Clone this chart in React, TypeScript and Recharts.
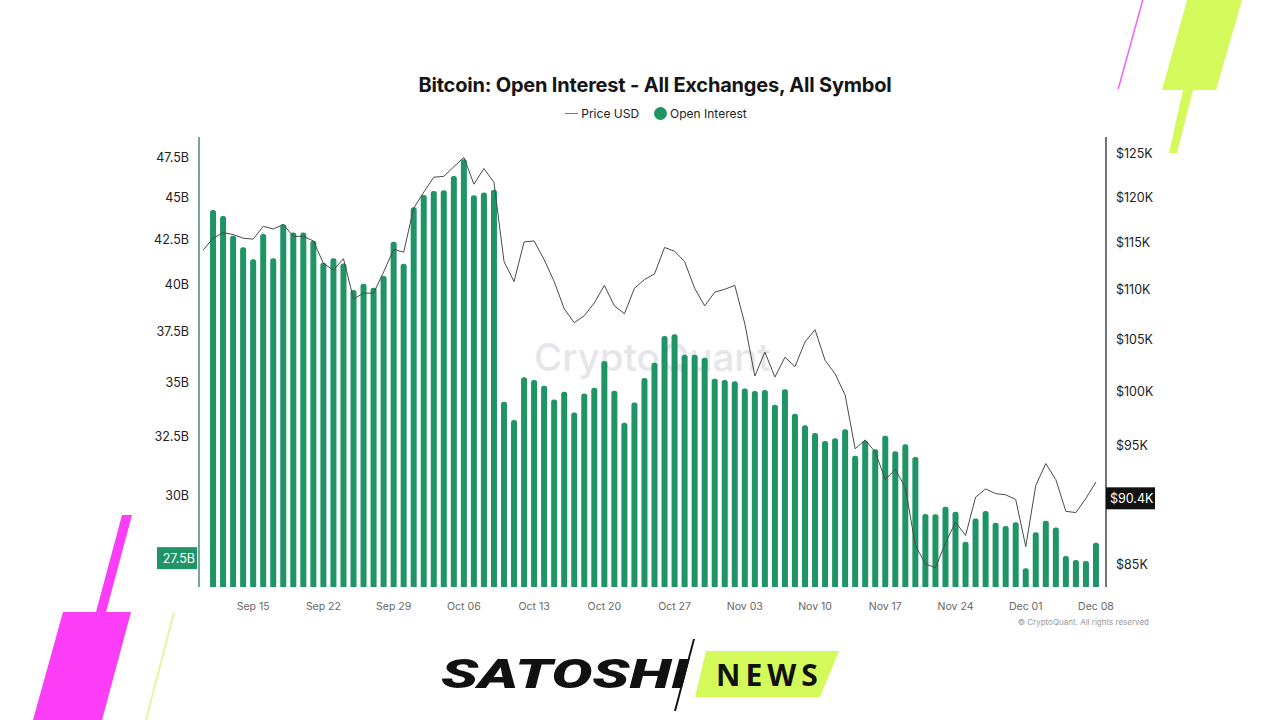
import { ComposedChart, Bar, Line, XAxis, YAxis, Legend } from "recharts";

const TITLE = "Bitcoin: Open Interest - All Exchanges, All Symbol";
const MONTHS = ["Sep", "Oct", "Nov", "Dec"];
const MONTH_DAYS = [
  [10, 11, 12, 13, 14, 15, 16, 17, 18, 19, 20, 21, 22, 23, 24, 25, 26, 27, 28, 29, 30],
  [1, 2, 3, 4, 5, 6, 7, 8, 9, 10, 11, 12, 13, 14, 15, 16, 17, 18, 19, 20, 21, 22, 23, 24, 25, 26, 27, 28, 29, 30, 31],
  [1, 2, 3, 4, 5, 6, 7, 8, 9, 10, 11, 12, 13, 14, 15, 16, 17, 18, 19, 20, 21, 22, 23, 24, 25, 26, 27, 28, 29, 30],
  [1, 2, 3, 4, 5, 6, 7, 8],
];
const DATES = MONTHS.flatMap((m, i) => MONTH_DAYS[i].map((d) => `${m} ${String(d).padStart(2, "0")}`));
const X_TICKS = ["Sep 15", "Sep 22", "Sep 29", "Oct 06", "Oct 13", "Oct 20", "Oct 27", "Nov 03", "Nov 10", "Nov 17", "Nov 24", "Dec 01", "Dec 08"];

// billions, no bar on the first day
const OPEN_INTEREST = [
  null,
  44.19, 43.83, 42.67, 42.0, 41.32, 42.77, 41.38, 43.34, 42.85, 42.85,
  42.38, 41.13, 41.38, 41.09, 39.62, 39.96, 39.75, 40.39, 42.32, 41.07,
  44.35, 45.1, 45.35, 45.39, 46.29, 47.35, 45.08, 45.25, 45.43,
  34.03, 33.19, 35.18, 35.05, 34.78, 34.14, 34.5, 33.53, 34.42, 34.69,
  35.97, 34.55, 33.07, 33.99, 35.15, 35.89, 37.22, 37.31, 36.28, 36.28,
  36.13, 35.11, 35.05, 34.99, 34.65, 34.53, 34.58, 33.89, 34.62, 33.48,
  32.96, 32.61, 32.26, 32.38, 32.78,
  31.62, 32.27, 31.9, 32.49, 31.81, 32.12, 31.56, 29.2, 29.19, 29.49,
  29.29, 28.12, 29.03, 29.32, 28.86, 28.73, 28.88, 27.12, 28.49, 28.94,
  28.67, 27.58, 27.43, 27.39, 28.08,
];

// thousands of USD
const PRICE = [
  114.1, 115.4, 116.0, 115.8, 115.4, 115.3, 116.7, 116.4, 116.9, 115.6,
  115.6, 115.1, 112.7, 112.0, 113.2, 109.0, 109.6, 109.6, 111.8, 114.2,
  113.9, 118.7, 120.5, 122.2, 122.3, 123.4, 124.5, 121.4, 123.2, 121.6,
  112.9, 110.8, 115.0, 115.1, 113.1, 110.8, 108.0, 106.6, 107.3, 108.6,
  110.4, 108.3, 107.5, 110.1, 111.0, 111.6, 114.4, 114.0, 112.9, 110.1,
  108.3, 109.7, 110.0, 110.4, 106.5, 101.4, 103.7, 101.3, 103.2, 102.3,
  104.7, 105.9, 102.9, 101.6, 99.6,
  94.7, 95.5, 94.4, 92.0, 92.9, 91.3, 86.5, 85.0, 84.7, 86.7,
  88.4, 87.3, 90.5, 91.2, 90.8, 90.7, 90.3, 86.4, 91.5, 93.4,
  92.0, 89.3, 89.2, 90.4, 91.8,
];

const OI_TICKS = [27.5, 30, 32.5, 35, 37.5, 40, 42.5, 45, 47.5];
const PRICE_TICKS = [85, 90.4, 95, 100, 105, 110, 115, 120, 125];
const OI_CURRENT = 27.5;
const PRICE_CURRENT = 90.4;

const GREEN = "#1f9465";
const LIME = "#d3f95a";
const MAGENTA = "#fb3df8";
const FONT = "Inter, sans-serif";

const chartData = DATES.map((date, i) => ({ date, oi: OPEN_INTEREST[i], price: PRICE[i] }));

function OiTick({ x, y, payload }: any) {
  const current = payload.value === OI_CURRENT;
  return (
    <g>
      {current && <rect x={x - 34} y={y - 11} width={40} height={22} fill={GREEN} />}
      <text x={current ? x + 4 : x - 2} y={y} dy={current ? 4.5 : 5.5} textAnchor="end" fontSize={12.5} fontFamily={FONT}
        fill={current ? "#fff" : "#222"}>{payload.value}B</text>
    </g>
  );
}

function PriceTick({ x, y, payload }: any) {
  const current = payload.value === PRICE_CURRENT;
  return (
    <g>
      {current && <rect x={x - 8} y={y - 11} width={49} height={22} fill="#111" />}
      <text x={x + (current ? -4 : 2)} y={y} dy={5} fontSize={12.5} fontFamily={FONT}
        fill={current ? "#fff" : "#222"}>${payload.value}K</text>
    </g>
  );
}

function ChartLegend() {
  return (
    <div style={{ display: "flex", alignItems: "center", justifyContent: "center", fontFamily: FONT, fontSize: 12, color: "#222" }}>
      <span style={{ width: 13, height: 1, background: "#777", marginRight: 3 }} />
      <span>Price USD</span>
      <span style={{ width: 13, height: 13, borderRadius: 7, background: GREEN, marginLeft: 15, marginRight: 3 }} />
      <span>Open Interest</span>
    </div>
  );
}

function Decorations() {
  return (
    <svg width={1280} height={720} style={{ position: "absolute", left: 0, top: 0 }}>
      <polygon points="1142,0 1143.5,0 1119,89 1117.5,89" fill="#f25cf0" />
      <polygon points="1187,0 1242,0 1216,90 1162,90" fill={LIME} />
      <polygon points="1183,90 1193,90 1177,153 1169,153" fill={LIME} />
      <polygon points="122,515 132,515 106,612 96,612" fill={MAGENTA} />
      <polygon points="63,612 131,612 102,720 33,720" fill={MAGENTA} />
      <polygon points="173,612 175,612 147,720 145,720" fill="#e4f5a0" />
      <polygon points="706,651 839,651 820,697 695,697" fill={LIME} />
      <polygon points="693,639 695,639 676,711 674,711" fill="#111" />
      <text x={441} y={688} fontFamily="Roboto, sans-serif" fontSize={41} fontWeight={900} fontStyle="italic"
        textLength={248} lengthAdjust="spacingAndGlyphs" fill="#111">SATOSHI</text>
      <text x={716} y={686} fontFamily="'Noto Sans', sans-serif" fontSize={30} fontWeight={700}
        letterSpacing={5} fill="#111">NEWS</text>
    </svg>
  );
}

export default function App() {
  return (
    <div style={{ position: "fixed", left: 0, top: 0, width: 1280, height: 720, background: "#fff", overflow: "hidden" }}>
      <Decorations />
      <div style={{ position: "absolute", left: 0, width: 1310, top: 73, textAlign: "center", fontFamily: FONT, fontSize: 20, fontWeight: 700, color: "#151515", letterSpacing: -0.2, whiteSpace: "nowrap" }}>
        {TITLE}
      </div>
      <div style={{ position: "absolute", left: 534, top: 334, fontFamily: FONT, fontSize: 38.5, fontWeight: 500, color: "#e6e6ea" }}>
        CryptoQuant
      </div>
      <div style={{ position: "absolute", right: 131, top: 617, fontFamily: FONT, fontSize: 8, color: "#999" }}>
        © CryptoQuant. All rights reserved
      </div>
      <div style={{ position: "absolute", left: 0, top: 0 }}>
        <ComposedChart width={1280} height={720} data={chartData} barCategoryGap={0}
          margin={{ top: 137, right: 0, bottom: 0, left: 0 }}>
          <XAxis dataKey="date" ticks={X_TICKS} interval={0} height={133} padding={{ left: -1, right: 5 }}
            axisLine={false} tickLine={false} tick={{ fill: "#666", fontSize: 10.5, fontFamily: FONT }} tickMargin={10} />
          <YAxis yAxisId="oi" scale="log" domain={[26.44, 48.81]} allowDataOverflow ticks={OI_TICKS} interval={0}
            width={199} tickLine={false} axisLine={{ stroke: "#3f8f70", strokeWidth: 1.5 }} tick={OiTick} />
          <YAxis yAxisId="price" orientation="right" scale="log" domain={[83.18, 126.9]} allowDataOverflow
            ticks={PRICE_TICKS} interval={0} width={174} tickLine={false} axisLine={{ stroke: "#444", strokeWidth: 1.5 }} tick={PriceTick} />
          <Legend content={ChartLegend} verticalAlign="middle" wrapperStyle={{ top: 106, left: 0, width: 1312 }} />
          <Bar yAxisId="oi" dataKey="oi" name="Open Interest" fill={GREEN} barSize={6} radius={[2.5, 2.5, 0, 0]} isAnimationActive={false} />
          <Line yAxisId="price" dataKey="price" name="Price USD" type="linear" stroke="#4a4a4a" strokeWidth={1} dot={false} isAnimationActive={false} />
        </ComposedChart>
      </div>
    </div>
  );
}
